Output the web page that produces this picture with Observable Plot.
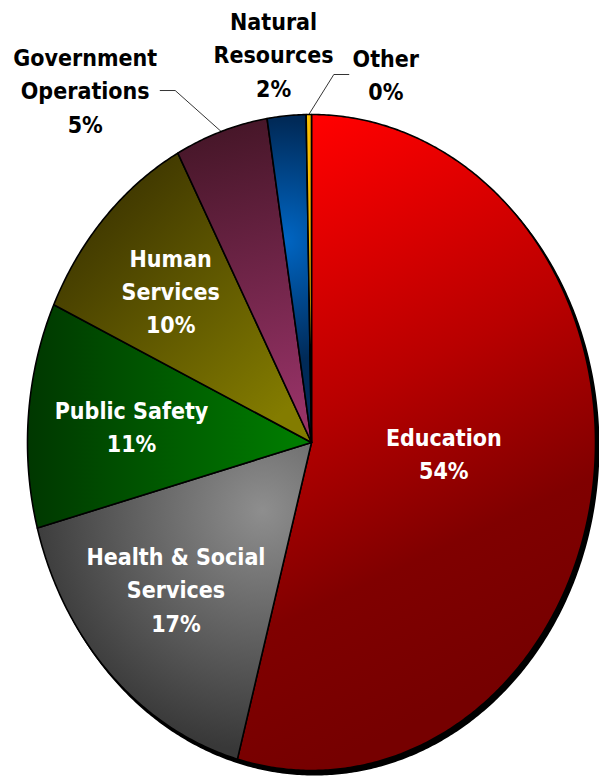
<!DOCTYPE html>
<html><head><meta charset="utf-8">
<script src="https://cdn.jsdelivr.net/npm/d3@7"></script>
<script src="https://cdn.jsdelivr.net/npm/@observablehq/plot@0.6"></script>
<style>
body{margin:0;background:#fff}
#chart{width:599px;height:778px}
#chart svg text{font-stretch:condensed}
</style>
</head><body><div id="chart"></div>
<script>
// ---- data ----
const categories = ["Education","Health & Social Services","Public Safety","Human Services","Government Operations","Natural Resources","Other"];
const shares = [54.2, 16.6, 11.1, 10.3, 5.3, 2.2, 0.3];
const labelNames = ["Education","Health & Social\nServices","Public Safety","Human\nServices","Government\nOperations","Natural\nResources","Other"];

// ---- layout / style ----
const W = 599, H = 778, CX = 311, CY = 442, RX = 284, RY = 328;
const FONT = "'DejaVu Sans Condensed', 'DejaVu Sans', sans-serif";
const labelLayout = [
  {r:0.47,  dx:0,    dy:-11, inside:true},
  {r:0.66,  dx:-3,   dy:-8,  inside:true},
  {r:0.636, dx:0,    dy:0,   inside:true},
  {r:0.675, dx:-1.5, dy:-1,  inside:true},
  {r:1,     dx:-136, dy:-43, inside:false, leader:[[-46,-41],[-61,-41]]},
  {r:1,     dx:-13,  dy:-63, inside:false},
  {r:1,     dx:77,   dy:-42, inside:false, leader:[[25,-40],[40,-40]]}
];
const gradients = [
  {type:"linear", x1:320, y1:118, x2:570, y2:650, stops:[[0,"#ff0000"],[0.45,"#b80000"],[0.75,"#800000"],[1,"#760000"]]},
  {type:"radial", cx:262, cy:510, r:240, stops:[[0,"#8e8e8e"],[1,"#383838"]]},
  {type:"linear", x1:30, y1:0, x2:295, y2:0, stops:[[0,"#003800"],[1,"#007c00"]]},
  {type:"linear", x1:80, y1:190, x2:285, y2:410, stops:[[0,"#3a3200"],[1,"#837c00"]]},
  {type:"linear", x1:225, y1:125, x2:300, y2:410, stops:[[0,"#461628"],[1,"#963266"]]},
  {type:"radial", cx:283, cy:240, r:120, stops:[[0,"#0066c4"],[1,"#002a58"]]},
  {type:"linear", x1:305, y1:0, x2:312, y2:0, stops:[[0,"#ffd000"],[1,"#f0a800"]]}
];

// ---- geometry from values ----
const total = d3.sum(shares);
let acc = 0;
const slices = categories.map((c, i) => {
  const a0 = acc / total; acc += shares[i]; const a1 = acc / total;
  return {c, i, a0, a1, mid: (a0 + a1) / 2};
});
function slicePts(s) {
  const n = Math.max(2, Math.ceil((s.a1 - s.a0) * 720));
  const pts = [{x:0, y:0}];
  for (let k = 0; k <= n; k++) {
    const a = 2 * Math.PI * (s.a0 + (s.a1 - s.a0) * k / n);
    pts.push({x: Math.sin(a), y: Math.cos(a)});
  }
  pts.push({x:0, y:0});
  return pts;
}
const labels = slices.map(s => {
  const L = labelLayout[s.i];
  const a = 2 * Math.PI * s.mid;
  const bx = Math.sin(a) * L.r, by = Math.cos(a) * L.r;
  return {
    i: s.i, inside: L.inside,
    x: bx + L.dx / RX, y: by - L.dy / RY,
    bx, by, leader: L.leader,
    text: labelNames[s.i] + "\n" + Math.round(shares[s.i]) + "%"
  };
});
const leaderPts = [];
labels.filter(d => d.leader).forEach(d => {
  leaderPts.push({i: d.i, x: d.bx, y: d.by});
  d.leader.forEach(([ox, oy]) => leaderPts.push({i: d.i, x: d.bx + ox / RX, y: d.by - oy / RY}));
});

const textOpts = {x:"x", y:"y", text:"text", fontSize:23, fontWeight:"bold", fontFamily:FONT, lineHeight:1.45, textAnchor:"middle"};

const svg = Plot.plot({
  width: W, height: H,
  marginTop: 0, marginBottom: 0, marginLeft: 0, marginRight: 0,
  x: {domain:[-1, 1], range:[CX - RX, CX + RX], axis: null},
  y: {domain:[-1, 1], range:[CY + RY, CY - RY], axis: null},
  marks: [
    Plot.line(slicePts({a0:0, a1:1}), {x:"x", y:"y", fill:"black", stroke:"black", strokeWidth:2, dx:3, dy:4}),
    ...slices.map(s => Plot.line(slicePts(s), {x:"x", y:"y", fill:`url(#g${s.i})`, stroke:"black", strokeWidth:1.6, strokeLinejoin:"round"})),
    Plot.line(leaderPts, {x:"x", y:"y", z:"i", stroke:"black", strokeWidth:0.8}),
    Plot.text(labels.filter(d => d.inside), {...textOpts, fill:"white"}),
    Plot.text(labels.filter(d => !d.inside), {...textOpts, fill:"black"})
  ]
});

// gradient definitions
const ns = "http://www.w3.org/2000/svg";
const defs = document.createElementNS(ns, "defs");
gradients.forEach((g, i) => {
  const el = document.createElementNS(ns, g.type === "linear" ? "linearGradient" : "radialGradient");
  el.setAttribute("id", "g" + i);
  el.setAttribute("gradientUnits", "userSpaceOnUse");
  if (g.type === "linear") {
    ["x1","y1","x2","y2"].forEach(k => el.setAttribute(k, g[k]));
  } else {
    ["cx","cy","r"].forEach(k => el.setAttribute(k, g[k]));
  }
  g.stops.forEach(([o, c]) => {
    const st = document.createElementNS(ns, "stop");
    st.setAttribute("offset", o);
    st.setAttribute("stop-color", c);
    el.appendChild(st);
  });
  defs.appendChild(el);
});
svg.insertBefore(defs, svg.firstChild);
document.getElementById("chart").appendChild(svg);
</script>
</body></html>
